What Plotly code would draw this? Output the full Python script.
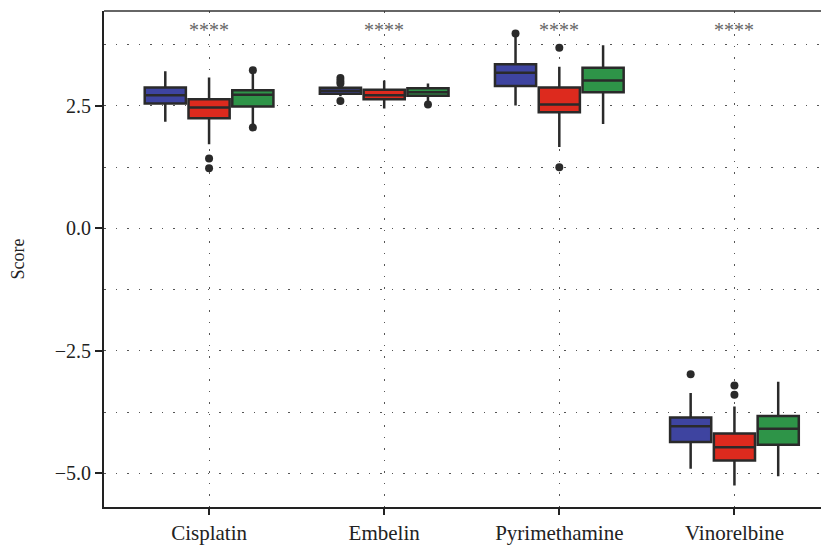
import numpy as np
import plotly.graph_objects as go

categories = ["Cisplatin", "Embelin", "Pyrimethamine", "Vinorelbine"]

# series 1 (blue)
s1_lower = [2.18, 2.70, 2.51, -4.91]
s1_q1 = [2.55, 2.75, 2.91, -4.36]
s1_median = [2.72, 2.81, 3.18, -4.04]
s1_q3 = [2.88, 2.87, 3.35, -3.86]
s1_upper = [3.21, 2.93, 3.93, -3.36]
s1_out = [[], [3.07, 3.01, 2.96, 2.60], [3.98], [-2.98]]

# series 2 (red)
s2_lower = [1.72, 2.45, 1.66, -5.25]
s2_q1 = [2.25, 2.64, 2.37, -4.74]
s2_median = [2.47, 2.72, 2.53, -4.47]
s2_q3 = [2.64, 2.83, 2.88, -4.19]
s2_upper = [3.08, 3.02, 3.30, -3.64]
s2_out = [[1.43, 1.23], [], [3.69, 1.25], [-3.21, -3.40]]

# series 3 (green)
s3_lower = [2.10, 2.58, 2.13, -5.06]
s3_q1 = [2.49, 2.71, 2.78, -4.42]
s3_median = [2.73, 2.78, 3.02, -4.09]
s3_q3 = [2.82, 2.86, 3.28, -3.83]
s3_upper = [3.20, 2.96, 3.74, -3.13]
s3_out = [[3.23, 2.06], [2.53], [], []]

significance = ["****", "****", "****", "****"]
sig_y = 4.06

series = [
    (s1_lower, s1_q1, s1_median, s1_q3, s1_upper, s1_out, "#3E44A0"),
    (s2_lower, s2_q1, s2_median, s2_q3, s2_upper, s2_out, "#DD2A1E"),
    (s3_lower, s3_q1, s3_median, s3_q3, s3_upper, s3_out, "#2E9448"),
]
offsets = [-0.25, 0.0, 0.25]
base = np.arange(len(categories))
dark = "#2a2a2a"
font_family = "Liberation Serif"

fig = go.Figure()
for (lo, q1, med, q3, up, outs, col), off in zip(series, offsets):
    xs = base + off
    fig.add_trace(go.Box(
        x=xs, q1=q1, median=med, q3=q3, lowerfence=lo, upperfence=up,
        width=0.235, fillcolor=col, line=dict(color=dark, width=2.5),
        whiskerwidth=0, boxpoints=False, showlegend=False, hoverinfo="skip",
    ))
    ox, oy = [], []
    for i, vals in enumerate(outs):
        for v in vals:
            ox.append(base[i] + off)
            oy.append(v)
    fig.add_trace(go.Scatter(
        x=ox, y=oy, mode="markers",
        marker=dict(color=dark, size=8), showlegend=False, hoverinfo="skip",
    ))

for i, s in enumerate(significance):
    fig.add_annotation(x=base[i], y=sig_y, text=s, showarrow=False,
                       font=dict(family=font_family, size=20, color="#666666"),
                       xanchor="center", yanchor="middle")

grid = dict(gridcolor="#555555", gridwidth=1, griddash="1.5px,10px")

fig.add_shape(type="line", xref="paper", yref="paper", x0=0, x1=1, y0=1, y1=1,
              line=dict(color="#333333", width=1.5))

# page body has an 8px margin; the figure is sized so it ends at the window edge
fig.update_layout(
    width=821, height=540,
    margin=dict(l=96, r=0, t=3, b=41),
    paper_bgcolor="white", plot_bgcolor="white",
    font=dict(family=font_family, size=19, color="#222222"),
    xaxis=dict(
        range=[-0.6, 3.54], tickvals=list(base), ticktext=categories,
        showgrid=True, **grid, zeroline=False,
        ticks="outside", ticklen=6, tickwidth=2, tickcolor="#222222",
        showline=True, linewidth=2, linecolor="#222222",
        tickfont=dict(family=font_family, size=21, color="#222222"),
        automargin=False,
    ),
    yaxis=dict(
        range=[-5.69, 4.44], tick0=0, dtick=2.5, tickformat=".1f",
        showgrid=True, **grid, zeroline=False,
        minor=dict(dtick=1.25, tick0=0, showgrid=True, ticks="", **grid),
        ticks="outside", ticklen=7, tickwidth=2, tickcolor="#222222",
        showline=True, linewidth=2, linecolor="#222222",
        tickfont=dict(family=font_family, size=20, color="#222222"),
        title=dict(text="Score", font=dict(family=font_family, size=18, color="#222222"), standoff=32),
        automargin=False,
    ),
)

fig.write_html("out.html")
